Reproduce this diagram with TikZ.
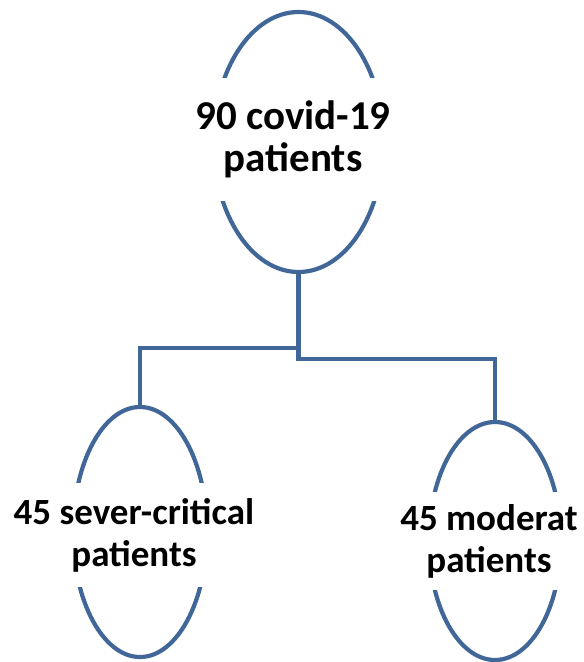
\documentclass[tikz,border=0pt]{standalone}
\usepackage{fontspec}
\setmainfont{Carlito}
\usetikzlibrary{shapes.geometric}
\definecolor{lineblue}{RGB}{64,103,152}
\tikzset{
  oval/.style={ellipse, draw=lineblue, line width=4.2pt, inner sep=0pt},
  mask/.style={fill=white, inner sep=0pt, align=center},
  bigtext/.style={font=\fontsize{41}{42}\selectfont\bfseries},
  smalltext/.style={font=\fontsize{37}{42}\selectfont\bfseries},
  conn/.style={draw=lineblue, line width=4.2pt, line join=miter}
}
\begin{document}
\begin{tikzpicture}[x=1pt,y=-1pt]
\useasboundingbox (0,0) rectangle (584,662);
% ellipses
\node[oval, minimum width=170pt, minimum height=260pt] (top) at (298.5,142) {};
\node[oval, minimum width=134pt, minimum height=250pt] (left) at (140,532) {};
\node[oval, minimum width=132pt, minimum height=238pt] (right) at (495,541) {};
% connectors
\draw[conn] (top.south) -- (top.south |- 0,348) -| (left.north);
\draw[conn] (top.south) -- (top.south |- 0,359) -| (right.north);
% text with white masks
\node[mask, bigtext, minimum width=200pt, minimum height=123pt] (toptext) at (293,139.5) {90 covid-19\\patients};
\node[mask, smalltext, minimum width=260pt, minimum height=104pt] (lefttext) at (134,535) {45 sever-critical\\patients};
\node[mask, smalltext, minimum width=180pt, minimum height=98pt] (righttext) at (489,541) {45 moderat\\patients};
\end{tikzpicture}
\end{document}
